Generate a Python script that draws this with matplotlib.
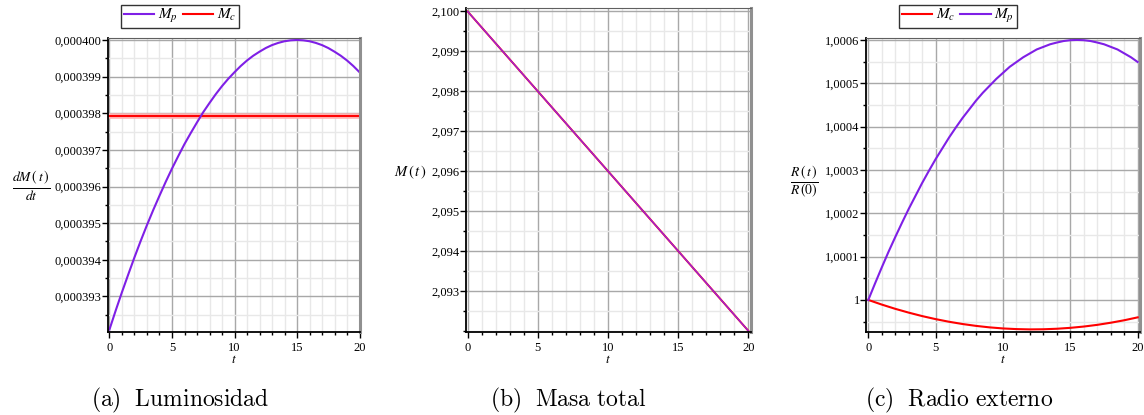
import matplotlib.pyplot as plt
import numpy as np
from matplotlib.ticker import MultipleLocator, FixedLocator, FuncFormatter
from matplotlib.lines import Line2D

plt.rcParams['font.family'] = ['Liberation Serif', 'DejaVu Serif']
plt.rcParams['mathtext.fontset'] = 'stix'

PURPLE = '#7f1fe6'
RED = '#ff0000'

t = np.arange(0, 21)
t_half = np.arange(0, 20.5, 0.5)

# luminosidad dM/dt (unidades de 1e-6)
lum_p = [392.10, 392.62, 393.12, 393.60, 394.07, 394.52, 394.95, 395.36, 395.75,
         396.13, 396.49, 396.83, 397.16, 397.46, 397.75, 398.03, 398.28, 398.52,
         398.74, 398.94, 399.12, 399.29, 399.44, 399.57, 399.68, 399.78, 399.86,
         399.92, 399.965, 399.99, 400.00, 399.99, 399.965, 399.92, 399.86, 399.78,
         399.68, 399.57, 399.44, 399.29, 399.12]
lum_c = 397.93
lum_ticks = [393, 394, 395, 396, 397, 398, 399, 400]

# masa total
t_mass = [0, 20]
mass = [2.100, 2.092]
mass_ticks = [2.093, 2.094, 2.095, 2.096, 2.097, 2.098, 2.099, 2.100]

# radio externo R(t)/R(0) - 1 (unidades de 1e-6)
rad_p = [0, 38, 75, 111, 145, 178, 210, 240, 270, 298, 325, 350, 375, 398, 420,
         440, 460, 478, 494, 510, 524, 538, 549, 560, 569, 578, 584, 590, 594,
         597.5, 599.4, 600, 599.4, 597.5, 594, 590, 584, 578, 569, 560, 549]
rad_c = [0, -10.7, -20.5, -29.3, -37.3, -44.3, -50.4, -55.6, -59.9, -63.3, -65.8,
         -67.3, -68.0, -67.7, -66.5, -64.4, -61.4, -57.5, -52.6, -46.9, -40.2]
rad_ticks = [1.0, 1.0001, 1.0002, 1.0003, 1.0004, 1.0005, 1.0006]


def comma(decimals):
    return FuncFormatter(lambda v, p: f"{v:.{decimals}f}".replace('.', ','))


def style(ax, yticks, ymin):
    ax.xaxis.set_major_locator(MultipleLocator(5))
    ax.xaxis.set_minor_locator(MultipleLocator(1))
    ax.yaxis.set_major_locator(FixedLocator(yticks))
    ax.yaxis.set_minor_locator(MultipleLocator(ymin))
    ax.grid(which='major', color='#a8a8a8', lw=1.0)
    ax.grid(which='minor', color='#e8e8e8', lw=1.0)
    ax.set_axisbelow(True)
    ax.tick_params(which='major', direction='out', length=4, width=1,
                   labelsize=9, pad=0.5)
    ax.tick_params(axis='x', which='major', pad=3)
    ax.tick_params(which='minor', direction='out', length=2.5, width=1)
    ax.tick_params(axis='x', which='both', top=False)
    ax.tick_params(axis='y', which='both', right=False)
    for s in ['left', 'bottom']:
        ax.spines[s].set_linewidth(1.3)
        ax.spines[s].set_color('black')
    ax.spines['top'].set_color('#606060')
    ax.spines['right'].set_color('#909090')
    ax.spines['right'].set_linewidth(2.2)
    ax.set_xlabel('$t$', fontsize=9.5, labelpad=0)
    ax.xaxis.set_major_formatter(FuncFormatter(lambda v, p: f"{v:.0f}"))


def legend(ax, colors, labels, x):
    handles = [Line2D([], [], color=c, lw=1.5) for c in colors]
    ax.legend(handles, labels, ncol=2, loc='lower center',
              bbox_to_anchor=(x, 1.034), frameon=True, fancybox=False,
              edgecolor='black', fontsize=11, handlelength=2.0,
              columnspacing=0.3, handletextpad=0.25, borderpad=0.15,
              borderaxespad=0)


fig = plt.figure(figsize=(11.44, 4.15), dpi=100)

# (a) luminosidad
ax1 = fig.add_axes([0.0944, 0.2, 0.2203, 0.709])
ax1.plot(t, [lum_c * 1e-6] * len(t), color='#ffb0b0', lw=4.0)
ax1.plot(t, [lum_c * 1e-6] * len(t), color=RED, lw=1.4)
ax1.plot(t_half, np.array(lum_p) * 1e-6, color=PURPLE, lw=1.5)
ax1.set_xlim(-0.12, 20.04)
ax1.set_ylim(392.03e-6, 400.06e-6)
style(ax1, np.array(lum_ticks) * 1e-6, 0.5e-6)
ax1.yaxis.set_major_formatter(comma(6))
ax1.set_ylabel(r'$\frac{dM\,(\,t\,)}{dt}$', rotation=0, fontsize=14,
               ha='center', va='center')
ax1.yaxis.set_label_coords(-0.305, 0.497)
legend(ax1, [PURPLE, RED], ['$M_p$', '$M_c$'], 0.286)
fig.text(0.157, 0.02, r'$\mathrm{(a)\ \ Luminosidad}$', fontsize=17,
         ha='center', math_fontfamily='cm')

# (b) masa total
ax2 = fig.add_axes([0.4071, 0.2, 0.2491, 0.78])
ax2.plot(t_mass, mass, color=RED, lw=1.4)
ax2.plot(t_mass, mass, color='#9a22dc', lw=1.0)
ax2.set_xlim(-0.14, 20.17)
ax2.set_ylim(2.09197, 2.10008)
style(ax2, mass_ticks, 0.0005)
ax2.yaxis.set_major_formatter(comma(3))
ax2.set_ylabel(r'$M\,(\,t\,)$', rotation=0, fontsize=10.5,
               ha='center', va='center')
ax2.yaxis.set_label_coords(-0.195, 0.494)
fig.text(0.497, 0.02, r'$\mathrm{(b)\ \ Masa\ total}$', fontsize=17,
         ha='center', math_fontfamily='cm')

# (c) radio externo
ax3 = fig.add_axes([0.757, 0.2, 0.2395, 0.709])
ax3.plot(t, 1 + np.array(rad_c) * 1e-6, color=RED, lw=1.5)
ax3.plot(t_half, 1 + np.array(rad_p) * 1e-6, color=PURPLE, lw=1.5)
ax3.set_xlim(-0.17, 20.17)
ax3.set_ylim(1 - 74e-6, 1 + 605e-6)
style(ax3, rad_ticks, 0.5e-4)
ax3.yaxis.set_major_formatter(FuncFormatter(
    lambda v, p: '1' if abs(v - 1) < 1e-9 else f"{v:.4f}".replace('.', ',')))
ax3.set_ylabel(r'$\frac{R\,(\,t\,)}{R\,(0)}$', rotation=0, fontsize=14,
               ha='center', va='center')
ax3.yaxis.set_label_coords(-0.226, 0.506)
legend(ax3, [RED, PURPLE], ['$M_c$', '$M_p$'], 0.336)
fig.text(0.838, 0.02, r'$\mathrm{(c)\ \ Radio\ externo}$', fontsize=17,
         ha='center', math_fontfamily='cm')

fig.savefig('out.png', dpi=100)
